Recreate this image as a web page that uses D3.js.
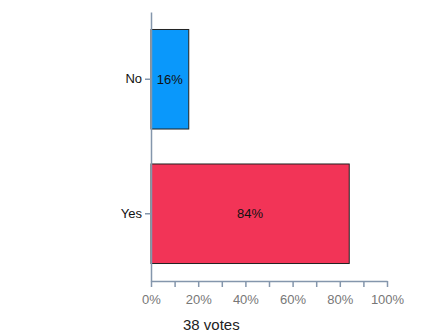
<!DOCTYPE html>
<html lang="en">
<head>
    <meta charset="UTF-8">
    <script src="https://cdn.jsdelivr.net/npm/d3@7"></script>
    <title>Poll result</title>
    <style>
        body {
            margin: 0;
            background: #ffffff;
            font-family: "Liberation Sans", Arial, sans-serif;
        }
    </style>
</head>
<body>
    <div id="chart"></div>
    <script>
        // poll answers and shares (percent)
        const answers = ["No", "Yes"];
        const shares = [16, 84];
        const barColors = ["#0a98fb", "#f23457"];
        const xTicks = [0, 10, 20, 30, 40, 50, 60, 70, 80, 90, 100];
        const voteLabel = "38 votes";

        const width = 430, height = 336;
        const axisColor = "#8496ac";

        const svg = d3.select("#chart").append("svg")
            .attr("width", width)
            .attr("height", height);

        const x = d3.scaleLinear().domain([0, 100]).range([151, 387]);
        const y = d3.scaleBand().domain(answers).range([12, 281])
            .paddingInner(0.26).paddingOuter(0.13);

        // bars
        svg.selectAll("rect.bar")
            .data(answers)
            .enter().append("rect")
            .attr("class", "bar")
            .attr("x", x(0))
            .attr("y", d => y(d))
            .attr("width", (d, i) => x(shares[i]) - x(0))
            .attr("height", y.bandwidth())
            .attr("fill", (d, i) => barColors[i])
            .attr("stroke", "#222")
            .attr("stroke-width", 1);

        // value labels in the middle of each bar
        svg.selectAll("text.val")
            .data(answers)
            .enter().append("text")
            .attr("class", "val")
            .attr("x", (d, i) => (x(0) + x(shares[i])) / 2)
            .attr("y", d => y(d) + y.bandwidth() / 2)
            .attr("dy", "0.35em")
            .attr("text-anchor", "middle")
            .attr("font-size", 13)
            .attr("fill", "#111")
            .text((d, i) => shares[i] + "%");

        // x axis
        const xAxis = svg.append("g")
            .attr("transform", "translate(0,281)")
            .call(d3.axisBottom(x).tickValues(xTicks).tickSize(6).tickSizeOuter(0)
                .tickFormat(d => d % 20 === 0 ? d + "%" : ""));
        xAxis.select(".domain").attr("stroke", axisColor).attr("stroke-width", 1.5);
        xAxis.selectAll(".tick line").attr("stroke", axisColor).attr("stroke-width", 1.5);
        xAxis.selectAll(".tick text")
            .attr("font-size", 13)
            .attr("font-family", "Liberation Sans, Arial, sans-serif")
            .attr("fill", "#777")
            .attr("dy", "1.1em");

        // y axis
        const yAxis = svg.append("g")
            .attr("transform", "translate(151,0)")
            .call(d3.axisLeft(y).tickSize(6).tickSizeOuter(0));
        yAxis.select(".domain").attr("stroke", axisColor).attr("stroke-width", 1.5);
        yAxis.selectAll(".tick line").attr("stroke", axisColor).attr("stroke-width", 1.5);
        yAxis.selectAll(".tick text")
            .attr("font-size", 13)
            .attr("font-family", "Liberation Sans, Arial, sans-serif")
            .attr("fill", "#111")
            .attr("x", -9);

        // footer
        svg.append("text")
            .attr("x", 183)
            .attr("y", 330)
            .attr("font-size", 15)
            .attr("fill", "#222")
            .text(voteLabel);
    </script>
</body>
</html>
